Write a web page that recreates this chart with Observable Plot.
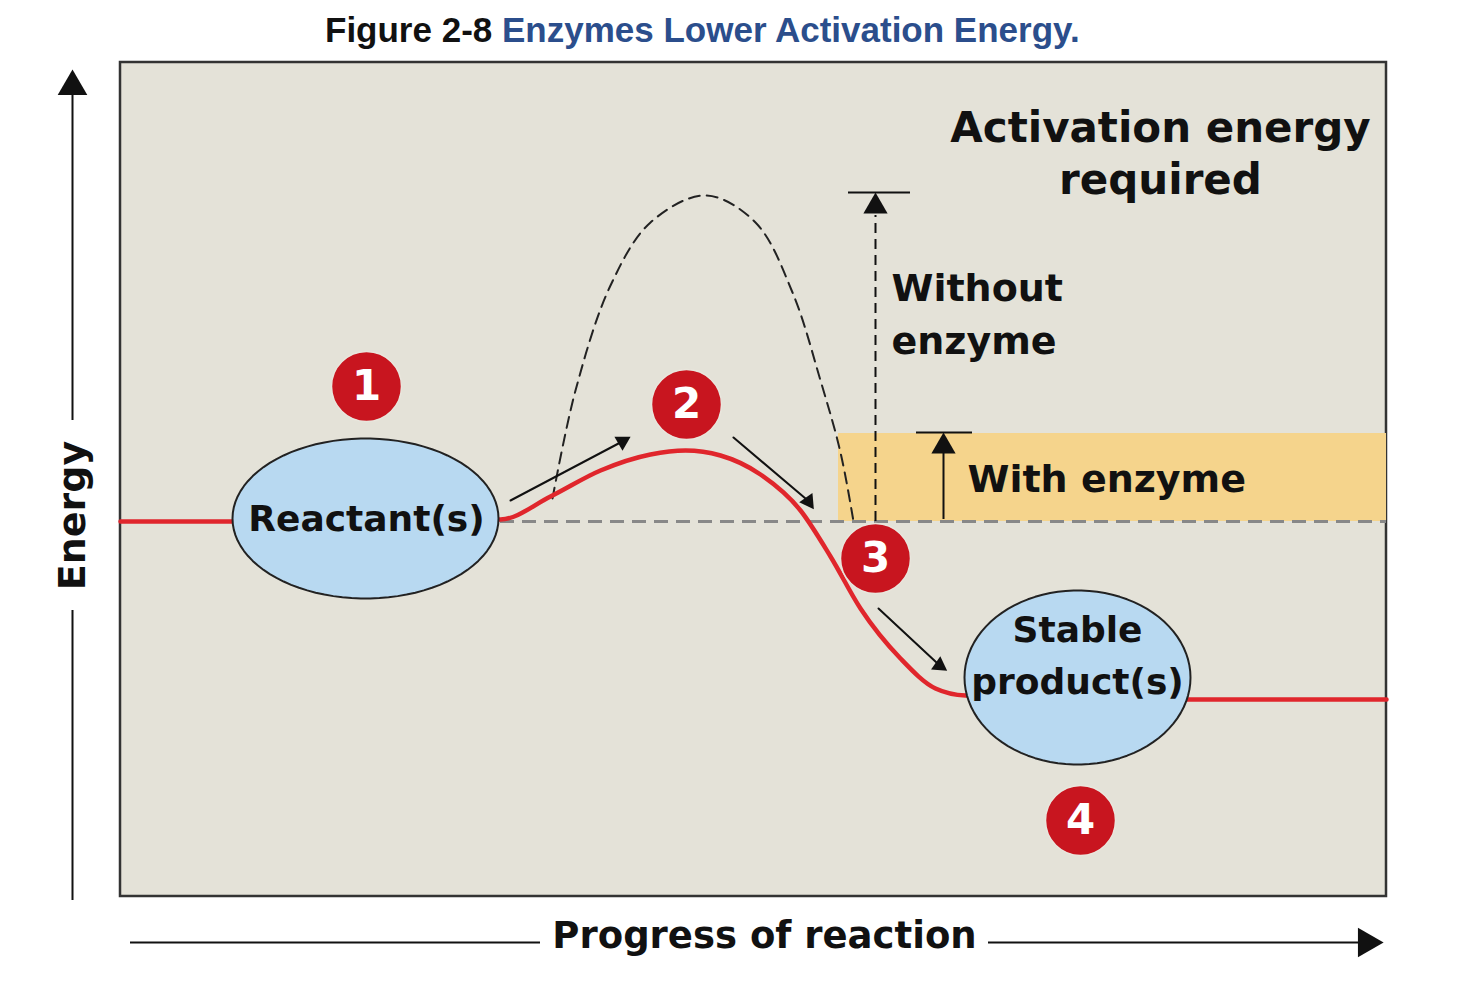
<!DOCTYPE html>
<html><head><meta charset="utf-8">
<script src="https://cdn.jsdelivr.net/npm/d3@7"></script>
<script src="https://cdn.jsdelivr.net/npm/@observablehq/plot@0.6"></script>
<style>
body{margin:0;background:#fff;}
#title{height:50px;font:bold 35px "Liberation Sans",Arial,sans-serif;padding-left:325px;line-height:60px;color:#111;}
#title span{color:#2b4e8c;}
</style></head><body>
<div id="title">Figure 2-8 <span>Enzymes Lower Activation Energy.</span></div>
<div id="chart"></div>
<script>
// page-pixel style coordinates (x right, y down)
const redCurve = [[120,521],[230,521],[500,519],[550,496],[600,470],[650,454],[685,450],[720,455],[760,474],[800,510],[830,556],[860,608],[900,658],[935,688],[965,695],[1190,699],[1386,699]];
const noEnzymeCurve = [[552,498],[575,390],[610,285],[650,222],[705,195],[755,222],[792,292],[820,380],[840,452],[853,521]];
const ellipses = [{name:"reactant",cx:365,cy:518,rx:133,ry:80},{name:"product",cx:1077,cy:677,rx:113,ry:87}];
const steps = [{n:"1",x:366,y:386},{n:"2",x:686,y:404},{n:"3",x:875,y:558},{n:"4",x:1080,y:820}];
const flowArrows = [{x1:510,y1:500,x2:618,y2:443,b:-12,hx:622,hy:441,rot:60},{x1:733,y1:437,x2:805,y2:498,b:18,hx:808,hy:501,rot:145},{x1:878,y1:608,x2:936,y2:662,b:15,hx:939,hy:665,rot:125}];
const vHeads = [{x:875,y:206},{x:943,y:446}];
const middleLabels = [
  {t:"Activation energy",x:1160,y:128,s:42},
  {t:"required",x:1160,y:180,s:42},
  {t:"Reactant(s)",x:366,y:519,s:36},
  {t:"Stable",x:1077,y:630,s:36},
  {t:"product(s)",x:1077,y:682,s:36}
];
const startLabels = [
  {t:"Without",x:891,y:288,s:38},
  {t:"enzyme",x:891,y:341,s:38},
  {t:"With enzyme",x:967,y:479,s:38}
];

const X = p => p - 120, Y = p => 896 - p;
const ell = e => d3.range(0, 361, 4).map(a => [X(e.cx + e.rx*Math.cos(a*Math.PI/180)), Y(e.cy + e.ry*Math.sin(a*Math.PI/180))]);
const font = "DejaVu Sans, sans-serif";

const plot = Plot.plot({
  width: 1469, height: 945,
  marginLeft: 120, marginRight: 83, marginTop: 12, marginBottom: 99,
  x: {domain: [0, 1266], axis: null},
  y: {domain: [0, 834], axis: null},
  style: {overflow: "visible"},
  marks: [
    Plot.rect([0], {x1: 0, x2: 1266, y1: 0, y2: 834, fill: "#e4e2d8", stroke: "#333", strokeWidth: 2.5}),
    Plot.rect([0], {x1: X(838), x2: 1266, y1: Y(521), y2: Y(433), fill: "#f5d48c"}),
    Plot.ruleY([0], {y: Y(521), x1: X(500), x2: 1266, stroke: "#888", strokeWidth: 3, strokeDasharray: "14,8"}),
    Plot.line(noEnzymeCurve, {x: d => X(d[0]), y: d => Y(d[1]), curve: "catmull-rom", stroke: "#222", strokeWidth: 2, strokeDasharray: "11,7"}),
    Plot.line(redCurve, {x: d => X(d[0]), y: d => Y(d[1]), curve: "monotone-x", stroke: "#e0262c", strokeWidth: 4.5}),
    ...ellipses.map(e => Plot.line(ell(e), {fill: "#b8d9f1", stroke: "#222", strokeWidth: 2})),
    Plot.arrow(flowArrows, {x1: d => X(d.x1), y1: d => Y(d.y1), x2: d => X(d.x2), y2: d => Y(d.y2), bend: d => d.b, stroke: "#111", strokeWidth: 2, headLength: 0}),
    Plot.dot(flowArrows, {x: d => X(d.hx), y: d => Y(d.hy), rotate: "rot", symbol: "triangle", r: 6, fill: "#111"}),
    // activation energy arrows
    Plot.ruleX([0], {x: X(875), y1: Y(521), y2: Y(215), stroke: "#111", strokeWidth: 2, strokeDasharray: "10,6"}),
    Plot.ruleY([0], {y: Y(192), x1: X(848), x2: X(910), stroke: "#111", strokeWidth: 2}),
    Plot.ruleX([0], {x: X(943), y1: Y(519), y2: Y(450), stroke: "#111", strokeWidth: 2}),
    Plot.ruleY([0], {y: Y(432), x1: X(916), x2: X(972), stroke: "#111", strokeWidth: 2}),
    Plot.dot(vHeads, {x: d => X(d.x), y: d => Y(d.y), symbol: "triangle", r: 9, fill: "#111"}),
    Plot.dot(steps, {x: d => X(d.x), y: d => Y(d.y), r: 35, fill: "#c8151f", stroke: "#e9e6dd", strokeWidth: 1.5}),
    Plot.text(steps, {x: d => X(d.x), y: d => Y(d.y), text: "n", fill: "white", fontSize: 42, fontWeight: "bold", fontFamily: font}),
    Plot.text(middleLabels, {x: d => X(d.x), y: d => Y(d.y), text: "t", fontSize: d => d.s, fontWeight: "bold", fontFamily: font, fill: "#111"}),
    Plot.text(startLabels, {x: d => X(d.x), y: d => Y(d.y), text: "t", textAnchor: "start", fontSize: d => d.s, fontWeight: "bold", fontFamily: font, fill: "#111"}),
    // outer axes
    Plot.ruleX([0], {x: X(72), y1: Y(900), y2: Y(610), stroke: "#111", strokeWidth: 2}),
    Plot.ruleX([0], {x: X(72), y1: Y(420), y2: Y(90), stroke: "#111", strokeWidth: 2}),
    Plot.dot([0], {x: X(72), y: Y(86), symbol: "triangle", r: 11, fill: "#111"}),
    Plot.text(["Energy"], {x: X(72), y: Y(515), rotate: -90, fontSize: 38, fontWeight: "bold", fontFamily: font, fill: "#111"}),
    Plot.ruleY([0], {y: Y(942), x1: X(130), x2: X(540), stroke: "#111", strokeWidth: 2}),
    Plot.ruleY([0], {y: Y(942), x1: X(988), x2: X(1362), stroke: "#111", strokeWidth: 2}),
    Plot.dot([0], {x: X(1366), y: Y(942), symbol: "triangle", rotate: 90, r: 11, fill: "#111"}),
    Plot.text(["Progress of reaction"], {x: X(764), y: Y(936), fontSize: 37, fontWeight: "bold", fontFamily: font, fill: "#111"})
  ]
});
document.querySelector("#chart").append(plot);
</script></body></html>
